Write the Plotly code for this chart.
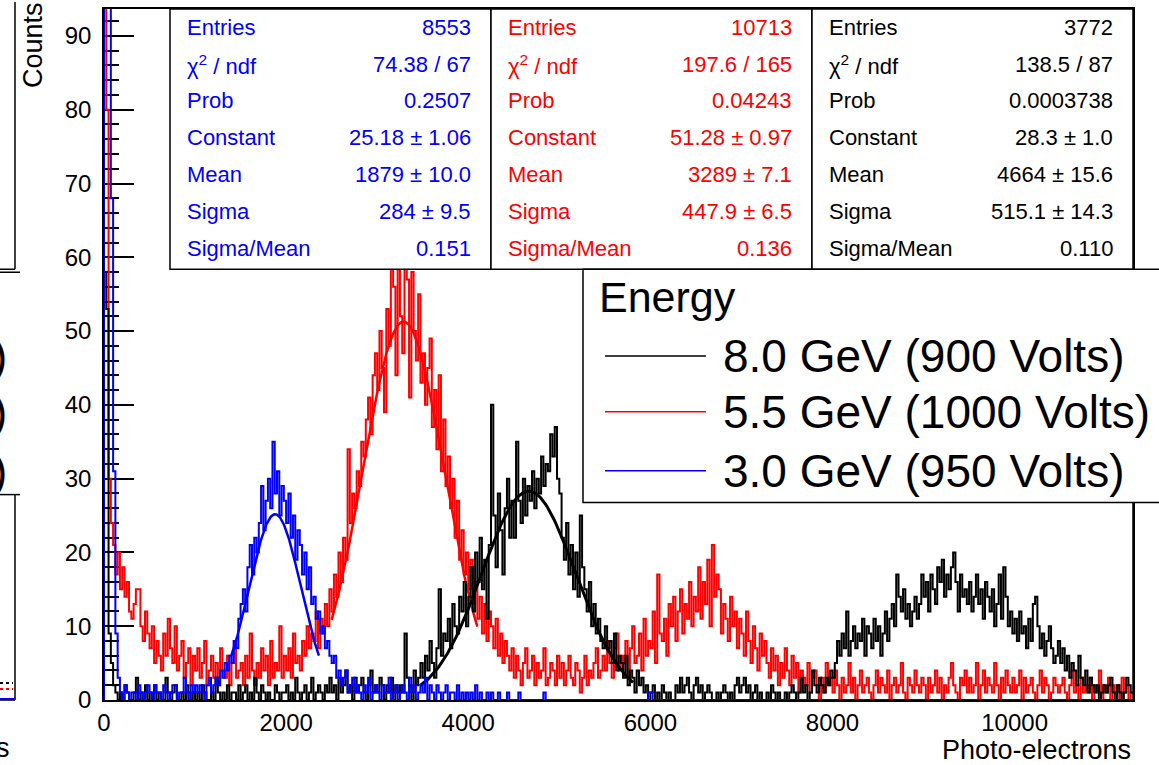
import numpy as np
import plotly.graph_objects as go

# ---------------------------------------------------------------------------
# Histogram contents (counts per bin, bin width 25 photo-electrons, 0..11300)
# ---------------------------------------------------------------------------
BIN_WIDTH = 25.0
X_MAX = 11300.0
Y_MAX = 93.65

counts_8gev = [  # 8.0 GeV (900 Volts)
    58, 53, 9, 5, 2, 1, 0, 1, 0, 2, 1, 0, 0, 1, 3, 0, 1, 0, 2, 0,
    1, 0, 2, 0, 1, 0, 0, 3, 1, 0, 1, 2, 0, 0, 1, 0, 2, 1, 0, 1,
    0, 1, 0, 2, 1, 0, 0, 1, 0, 3, 1, 0, 1, 0, 2, 0, 1, 1, 0, 2,
    0, 1, 2, 0, 1, 0, 3, 1, 0, 2, 1, 0, 1, 0, 0, 2, 1, 0, 1, 1,
    2, 0, 1, 0, 3, 1, 0, 1, 2, 0, 1, 3, 0, 1, 2, 1, 0, 2, 1, 3,
    1, 2, 0, 3, 1, 2, 4, 1, 2, 0, 3, 1, 2, 3, 1, 0, 2, 4, 1, 2,
    1, 3, 2, 0, 2, 1, 3, 0, 2, 1, 2, 1, 9, 3, 2, 0, 4, 2, 3, 5,
    3, 6, 4, 8, 5, 3, 7, 15, 6, 9, 8, 11, 7, 13, 10, 9, 14, 12, 16, 10,
    14, 18, 12, 20, 16, 22, 15, 19, 11, 21, 40, 25, 18, 28, 23, 17, 26, 30, 22, 27,
    22, 35, 27, 24, 30, 25, 29, 27, 31, 26, 30, 28, 33, 29, 32, 31, 36, 33, 37, 30,
    28, 22, 19, 24, 17, 21, 15, 20, 14, 25, 18, 15, 12, 16, 10, 13, 9, 11, 8, 7,
    10, 7, 8, 5, 9, 4, 6, 5, 3, 6, 2, 4, 3, 1, 4, 2, 3, 1, 2, 0,
    1, 2, 0, 1, 0, 2, 1, 0, 1, 0, 0, 2, 1, 3, 1, 2, 3, 1, 0, 2,
    3, 1, 2, 0, 1, 2, 1, 0, 0, 1, 0, 1, 2, 1, 0, 1, 0, 2, 3, 1,
    2, 3, 1, 2, 0, 1, 2, 0, 1, 0, 0, 1, 0, 2, 1, 0, 1, 0, 0, 1,
    0, 1, 2, 1, 0, 1, 3, 1, 2, 0, 1, 4, 2, 1, 3, 2, 1, 3, 2, 4,
    3, 5, 8, 6, 9, 7, 12, 6, 8, 10, 7, 9, 8, 11, 6, 10, 9, 7, 11, 8,
    10, 6, 9, 12, 8, 11, 13, 10, 17, 14, 12, 15, 11, 13, 10, 12, 14, 11, 13, 17,
    14, 16, 12, 17, 15, 13, 18, 16, 19, 14, 17, 15, 18, 20, 16, 12, 17, 14, 15, 13,
    16, 12, 14, 17, 13, 15, 11, 16, 14, 12, 15, 10, 13, 17, 11, 18, 14, 10, 12, 9,
    11, 8, 12, 9, 10, 7, 11, 8, 13, 14, 10, 7, 9, 6, 8, 10, 7, 5, 6, 8,
    5, 7, 4, 6, 3, 5, 4, 2, 6, 3, 2, 4, 1, 3, 2, 1, 2, 0, 1, 2,
    1, 2, 3, 1, 0, 2, 1, 0, 1, 3, 2, 1,
]

counts_5gev = [  # 5.5 GeV (1000 Volts)
    520, 80, 30, 24, 21, 17, 20, 15, 18, 14, 16, 12, 11, 13, 15, 15, 10, 8, 12, 9,
    7, 10, 5, 8, 6, 4, 9, 6, 11, 7, 5, 10, 4, 6, 8, 3, 5, 7, 2, 6,
    4, 7, 3, 5, 8, 2, 4, 6, 3, 5, 2, 7, 4, 3, 6, 2, 5, 8, 3, 4,
    5, 2, 6, 3, 9, 4, 2, 5, 3, 7, 4, 6, 2, 8, 3, 5, 4, 10, 3, 6,
    4, 7, 3, 9, 5, 6, 4, 8, 6, 10, 7, 9, 8, 12, 7, 11, 9, 13, 10, 15,
    12, 17, 14, 20, 16, 22, 19, 34, 24, 28, 26, 31, 29, 35, 33, 38, 41, 36, 44, 47,
    42, 50, 45, 39, 53, 48, 60, 56, 44, 62, 52, 47, 61, 57, 41, 58, 50, 46, 55, 43,
    47, 40, 45, 49, 37, 42, 34, 44, 31, 38, 29, 33, 26, 30, 22, 27, 19, 23, 17, 20,
    15, 19, 13, 16, 11, 14, 9, 13, 8, 12, 10, 7, 11, 6, 9, 5, 8, 6, 4, 7,
    3, 6, 4, 2, 5, 7, 3, 4, 6, 2, 5, 3, 4, 7, 2, 3, 5, 4, 2, 6,
    3, 5, 2, 4, 6, 3, 2, 5, 4, 1, 3, 6, 2, 4, 3, 5, 7, 3, 4, 6,
    4, 8, 5, 3, 7, 9, 4, 6, 5, 8, 3, 7, 10, 5, 6, 9, 4, 11, 6, 8,
    7, 12, 5, 17, 9, 8, 11, 6, 13, 10, 14, 8, 12, 15, 9, 13, 11, 16, 10, 14,
    12, 18, 11, 16, 13, 19, 10, 21, 14, 17, 15, 9, 13, 11, 8, 14, 10, 12, 7, 11,
    9, 6, 12, 8, 5, 10, 7, 4, 9, 6, 8, 5, 3, 7, 4, 6, 2, 5, 3, 7,
    4, 2, 6, 3, 5, 1, 4, 3, 2, 5, 1, 3, 4, 2, 0, 3, 1, 5, 2, 3,
    1, 4, 2, 0, 3, 1, 2, 5, 1, 3, 0, 2, 4, 1, 2, 3, 1, 0, 2, 4,
    1, 3, 2, 1, 4, 0, 2, 3, 1, 2, 5, 1, 0, 3, 2, 1, 4, 2, 1, 3,
    2, 0, 3, 1, 2, 4, 1, 3, 0, 2, 1, 3, 5, 2, 1, 0, 3, 2, 4, 1,
    3, 1, 2, 5, 0, 2, 4, 1, 3, 2, 1, 5, 2, 0, 3, 1, 4, 2, 1, 3,
    1, 2, 4, 0, 3, 1, 2, 3, 1, 0, 2, 4, 1, 3, 2, 0, 1, 3, 2, 1,
    2, 3, 1, 0, 2, 4, 1, 2, 0, 3, 1, 2, 1, 3, 0, 2, 1, 4, 0, 2,
    1, 3, 0, 2, 1, 2, 0, 3, 1, 2, 0, 1,
]

counts_3gev = [  # 3.0 GeV (950 Volts)
    700, 400, 120, 68, 31, 9, 3, 1, 0, 2, 1, 0, 1, 1, 0, 2, 1, 0, 1, 2,
    1, 0, 2, 1, 1, 0, 2, 1, 0, 1, 2, 2, 0, 1, 1, 3, 1, 0, 2, 1,
    2, 1, 2, 1, 0, 2, 3, 1, 2, 3, 2, 4, 3, 5, 4, 6, 5, 8, 7, 11,
    13, 15, 12, 18, 21, 17, 22, 20, 24, 29, 23, 27, 30, 26, 35, 28, 31, 25, 29, 27,
    24, 28, 22, 25, 19, 23, 21, 17, 20, 15, 18, 13, 14, 11, 12, 9, 10, 7, 8, 6,
    5, 6, 3, 4, 2, 3, 4, 1, 2, 3, 1, 2, 1, 0, 2, 1, 3, 0, 1, 2,
    1, 0, 2, 1, 1, 3, 0, 1, 2, 0, 1, 2, 1, 0, 3, 1, 2, 0, 1, 2,
    1, 3, 0, 2, 1, 0, 2, 1, 0, 1, 2, 0, 1, 1, 0, 2, 0, 1, 0, 1,
    0, 1, 0, 2, 0, 1, 0, 0, 1, 0, 1, 0, 0, 1, 0, 0, 0, 1, 0, 0,
    0, 0, 1, 0, 0, 0, 0, 0, 0, 0, 0, 0, 0, 1, 0, 0, 0, 0, 0, 0,
    0, 0, 0, 0, 0, 0, 0, 0, 0, 0, 0, 0, 0, 0, 0, 0, 0, 0, 0, 0,
    0, 0, 0, 0, 0, 0, 0, 0, 0, 0, 0, 0, 0, 0, 0, 0, 0, 0, 0, 1,
    1, 0, 0, 0, 0, 0, 0, 0, 0, 0, 0, 0, 0, 0, 0, 0, 0, 0, 0, 0,
    0, 0, 0, 0, 0, 0, 0, 0, 0, 0, 0, 0, 0, 0, 0, 0, 0, 0, 0, 0,
    0, 0, 0, 0, 0, 0, 0, 0, 0, 0, 0, 0, 0, 0, 0, 0, 0, 0, 0, 0,
    0, 0, 0, 0, 0, 0, 0, 0, 0, 0, 0, 0, 0, 0, 0, 0, 0, 0, 0, 0,
    0, 0, 0, 0, 0, 0, 0, 0, 0, 0, 0, 0, 0, 0, 0, 0, 0, 0, 0, 0,
    0, 0, 0, 0, 0, 0, 0, 0, 0, 0, 0, 0, 0, 0, 0, 0, 0, 0, 0, 0,
    0, 0, 0, 0, 0, 0, 0, 0, 0, 0, 0, 0, 0, 0, 0, 0, 0, 0, 0, 0,
    0, 0, 0, 0, 0, 0, 0, 0, 0, 0, 0, 0, 0, 0, 0, 0, 0, 0, 0, 0,
    0, 0, 0, 0, 0, 0, 0, 0, 0, 0, 0, 0, 0, 0, 0, 0, 0, 0, 0, 0,
    0, 0, 0, 0, 0, 0, 0, 0, 0, 0, 0, 0, 0, 0, 0, 0, 0, 0, 0, 0,
    0, 0, 0, 0, 0, 0, 0, 0, 0, 0, 0, 0,
]

# Gaussian fit results (Constant, Mean, Sigma) and fit ranges
fit_8gev = (28.3, 4664.0, 515.1)
fit_5gev = (51.28, 3289.0, 447.9)
fit_3gev = (25.18, 1879.0, 284.0)
fit_range_8gev = (3470.0, 5810.0)
fit_range_5gev = (2500.0, 4100.0)
fit_range_3gev = (1400.0, 2360.0)

# Statistics boxes
stats_labels = ["Entries", "χ<sup>2</sup> / ndf", "Prob", "Constant", "Mean", "Sigma", "Sigma/Mean"]
stats_3gev = ["8553", "74.38 / 67", "0.2507", "25.18 ± 1.06", "1879 ± 10.0", "284 ± 9.5", "0.151"]
stats_5gev = ["10713", "197.6 / 165", "0.04243", "51.28 ± 0.97", "3289 ± 7.1", "447.9 ± 6.5", "0.136"]
stats_8gev = ["3772", "138.5 / 87", "0.0003738", "28.3 ± 1.0", "4664 ± 15.6", "515.1 ± 14.3", "0.110"]

legend_title = "Energy"
legend_labels = ["8.0 GeV (900 Volts)", "5.5 GeV (1000 Volts)", "3.0 GeV (950 Volts)"]
x_tick_values = [0, 2000, 4000, 6000, 8000, 10000]

BLACK, RED, BLUE = "#000000", "#ff0000", "#0000ff"
FONT = "Liberation Sans, Arial, Helvetica, sans-serif"

# canvas geometry in pixels
W, H = 1159, 765
L, R, T, B = 104, 1133, 7, 700


def px(x):
    return (x - L) / (R - L)


def py(y):
    return (B - y) / (B - T)


def step_xy(counts):
    c = np.asarray(counts, dtype=float)
    edges = np.arange(len(c) + 1) * BIN_WIDTH
    xs = np.concatenate([[0.0], edges])
    ys = np.concatenate([[0.0], c, [c[-1]]])
    return xs, ys


def gauss_curve(params, xr):
    c, mu, s = params
    x = np.linspace(xr[0], xr[1], 160)
    return x, c * np.exp(-0.5 * ((x - mu) / s) ** 2)


n_bins = int(round(X_MAX / BIN_WIDTH))
for arr in (counts_8gev, counts_5gev, counts_3gev):
    assert len(arr) == n_bins, len(arr)

fig = go.Figure()


def add_hist(counts, col):
    hx, hy = step_xy(counts)
    fig.add_trace(go.Scatter(x=hx, y=hy, mode="lines", line=dict(color=col, width=2, shape="hv"),
                             hoverinfo="skip"))


def add_fit(params, xr, col, width):
    fx, fy = gauss_curve(params, xr)
    fig.add_trace(go.Scatter(x=fx, y=fy, mode="lines", line=dict(color=col, width=width),
                             hoverinfo="skip"))


# red: fit sits inside the dense histogram
add_fit(fit_5gev, fit_range_5gev, RED, 2.5)
add_hist(counts_5gev, RED)
# black: fit drawn on top
add_hist(counts_8gev, BLACK)
add_fit(fit_8gev, fit_range_8gev, BLACK, 3)
# blue
add_fit(fit_3gev, fit_range_3gev, BLUE, 2.5)
add_hist(counts_3gev, BLUE)

shapes = []
annotations = []

# statistics boxes
boxes = [(170, 491, BLUE, stats_3gev), (491, 812, RED, stats_5gev), (812, 1133, BLACK, stats_8gev)]
row_y = [26, 63, 99, 136, 173, 210, 247]
for x0, x1, col, vals in boxes:
    shapes.append(dict(type="rect", xref="paper", yref="paper", x0=px(x0), x1=px(x1), y0=py(268), y1=py(7),
                       fillcolor="white", line=dict(color="black", width=1.5), layer="above"))
    for lab, val, yy in zip(stats_labels, vals, row_y):
        annotations.append(dict(xref="paper", yref="paper", x=px(x0 + 15), y=py(yy), text=lab,
                                xanchor="left", yanchor="middle", showarrow=False,
                                font=dict(family=FONT, size=22, color=col)))
        annotations.append(dict(xref="paper", yref="paper", x=px(x1 - 18), y=py(yy), text=val,
                                xanchor="right", yanchor="middle", showarrow=False,
                                font=dict(family=FONT, size=22, color=col)))

# legend box
shapes.append(dict(type="rect", xref="paper", yref="paper", x0=px(583), x1=px(1190), y0=py(502), y1=py(268),
                   fillcolor="white", line=dict(color="black", width=1.5), layer="above"))
annotations.append(dict(xref="paper", yref="paper", x=px(597), y=py(296), text=legend_title,
                        xanchor="left", yanchor="middle", showarrow=False,
                        font=dict(family=FONT, size=43, color="black")))
for lab, col, yy in zip(legend_labels, [BLACK, RED, BLUE], [355, 411, 470]):
    shapes.append(dict(type="line", xref="paper", yref="paper", x0=px(605), x1=px(706), y0=py(yy), y1=py(yy),
                       line=dict(color=col, width=1.5), layer="above"))
    annotations.append(dict(xref="paper", yref="paper", x=px(721), y=py(yy), text=lab,
                            xanchor="left", yanchor="middle", showarrow=False,
                            font=dict(family=FONT, size=46, color="black")))

# frame right edge below the legend
shapes.append(dict(type="line", xref="paper", yref="paper", x0=px(R), x1=px(R), y0=py(700), y1=py(502),
                   line=dict(color="black", width=1.5), layer="above"))

# neighbouring pad on the left edge
for (x0, y0, x1, y1) in [(15, 0, 15, 268), (0, 268, 15, 268), (0, 271, 20, 271),
                         (0, 494, 20, 494), (15, 494, 15, 700), (0, 700, 15, 700)]:
    shapes.append(dict(type="line", xref="paper", yref="paper", x0=px(x0), x1=px(x1), y0=py(y0), y1=py(y1),
                       line=dict(color="black", width=1.5), layer="above"))
shapes.append(dict(type="line", xref="paper", yref="paper", x0=px(0), x1=px(15), y0=py(699), y1=py(699),
                   line=dict(color=BLUE, width=2), layer="above"))
shapes.append(dict(type="line", xref="paper", yref="paper", x0=px(0), x1=px(13), y0=py(689), y1=py(689),
                   line=dict(color=RED, width=2, dash="dot"), layer="above"))
shapes.append(dict(type="line", xref="paper", yref="paper", x0=px(0), x1=px(13), y0=py(683), y1=py(683),
                   line=dict(color=BLACK, width=2, dash="dot"), layer="above"))
for yy in [355, 411, 470]:
    annotations.append(dict(xref="paper", yref="paper", x=px(9), y=py(yy), text=")",
                            xanchor="right", yanchor="middle", showarrow=False,
                            font=dict(family=FONT, size=46, color="black")))
annotations.append(dict(xref="paper", yref="paper", x=px(12), y=py(748), text="s",
                        xanchor="right", yanchor="middle", showarrow=False,
                        font=dict(family=FONT, size=27, color="black")))

# axis titles
annotations.append(dict(xref="paper", yref="paper", x=px(33), y=py(-2), text="Counts", textangle=-90,
                        xanchor="center", yanchor="top", showarrow=False,
                        font=dict(family=FONT, size=27, color="black")))
annotations.append(dict(xref="paper", yref="paper", x=px(1133), y=py(750), text="Photo-electrons",
                        xanchor="right", yanchor="middle", showarrow=False,
                        font=dict(family=FONT, size=27, color="black")))

fig.update_layout(
    width=W, height=H, autosize=False,
    margin=dict(l=L, r=W - R, t=T, b=H - B, pad=0),
    paper_bgcolor="white", plot_bgcolor="white",
    showlegend=False,
    font=dict(family=FONT, color="black"),
    shapes=shapes, annotations=annotations,
    xaxis=dict(range=[0, X_MAX], showgrid=False, zeroline=False, showline=True, linecolor="black",
               linewidth=1.5, mirror=True, ticks="", tickvals=x_tick_values,
               ticktext=[str(v) for v in x_tick_values], tickfont=dict(size=24, family=FONT),
               layer="below traces"),
    yaxis=dict(range=[0, Y_MAX], showgrid=False, zeroline=False, showline=True, linecolor="black",
               linewidth=1.5, mirror=True, ticks="inside", ticklen=30, tickwidth=1.5, tickcolor="black",
               tick0=0, dtick=10, tickfont=dict(size=24, family=FONT), ticklabelstandoff=6,
               minor=dict(ticks="inside", ticklen=15, tickwidth=1.5, tickcolor="black", dtick=2, tick0=0),
               layer="below traces"),
)

fig.write_html("out.html")
